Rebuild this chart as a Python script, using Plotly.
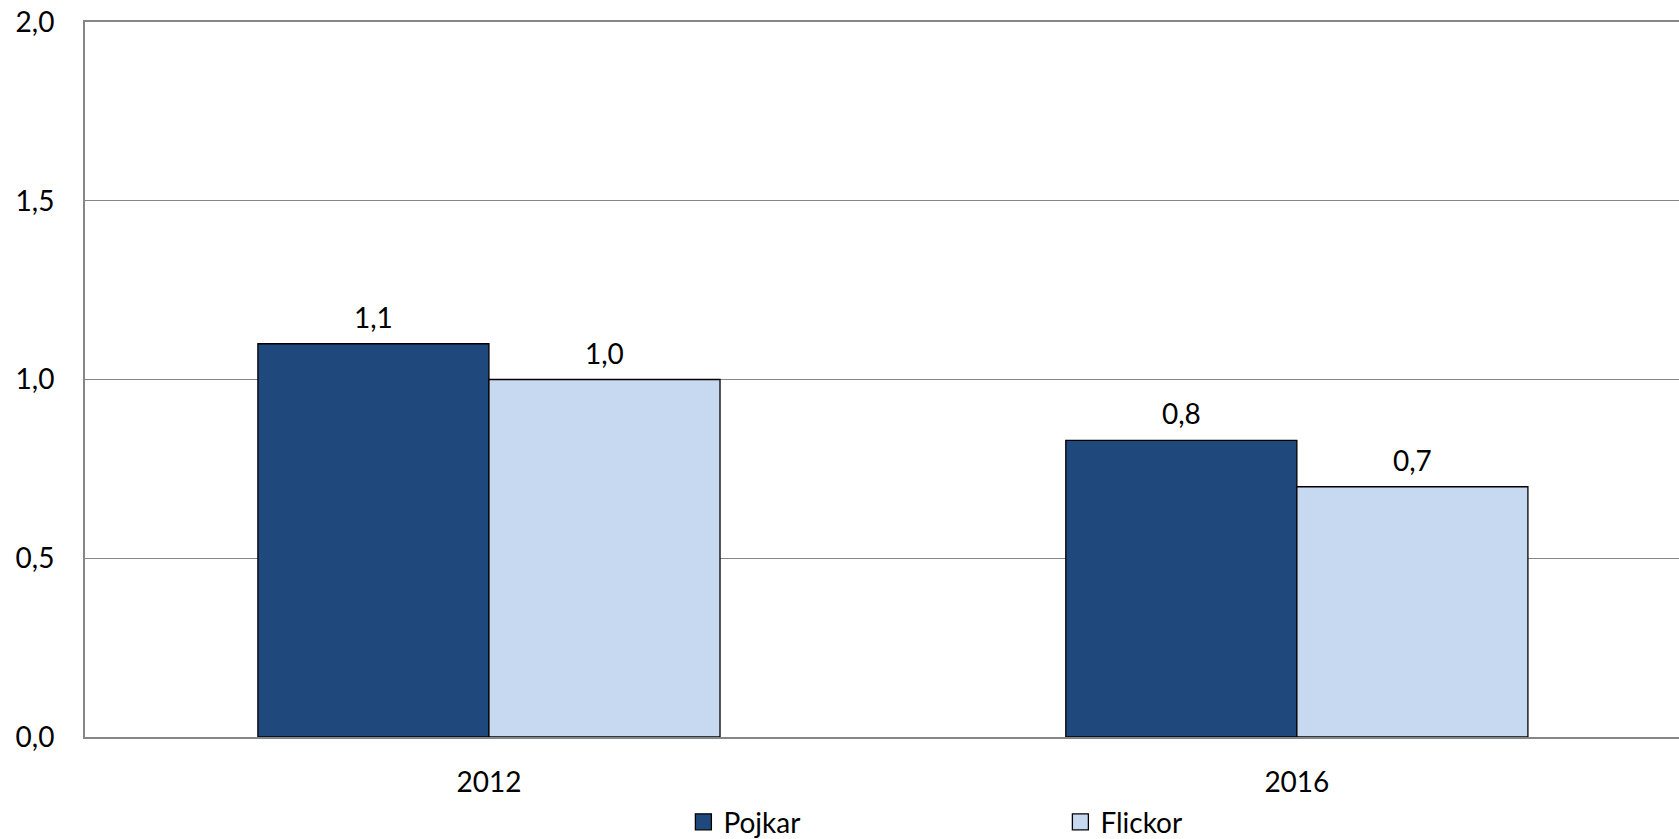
import plotly.graph_objects as go

categories = ["2012", "2016"]
pojkar = [1.10, 0.83]
flickor = [1.00, 0.70]
series_names = ["Pojkar", "Flickor"]
colors = ["#1F497D", "#C6D9F1"]
y_ticks = [0.0, 0.5, 1.0, 1.5, 2.0]
y_tick_labels = ["0,0", "0,5", "1,0", "1,5", "2,0"]

FONT = "Lato"
FS = 28
bargap = 0.428

fig = go.Figure()
for name, vals, col in zip(series_names, [pojkar, flickor], colors):
    fig.add_trace(go.Bar(
        name=name, x=categories, y=vals,
        marker=dict(color=col, line=dict(color="black", width=1.3)),
        showlegend=False,
    ))
    fig.add_trace(go.Scatter(
        name=name, x=[None], y=[None], mode="markers",
        marker=dict(symbol="square", size=16, color=col, line=dict(color="black", width=1.3)),
        showlegend=True,
    ))

# data labels
half = (1 - bargap) / 4
annotations = []
for gi, vals in enumerate([pojkar, flickor]):
    off = -half if gi == 0 else half
    for ci, v in enumerate(vals):
        annotations.append(dict(
            x=ci + off, y=v, xref="x", yref="y",
            text=f"{v:.1f}".replace(".", ","), showarrow=False,
            yanchor="bottom", yshift=8,
            font=dict(family=FONT, size=FS, color="black"),
        ))

fig.update_layout(
    width=1679, height=839,
    barmode="group", bargap=bargap, bargroupgap=0,
    plot_bgcolor="white", paper_bgcolor="white",
    margin=dict(l=85, r=0, t=22, b=102, autoexpand=False),
    font=dict(family=FONT, size=FS, color="black"),
    annotations=annotations,
    legend=dict(
        orientation="h", x=0.3754, xanchor="left", y=-0.119, yanchor="middle",
        font=dict(family=FONT, size=FS, color="black"),
        entrywidth=332, itemwidth=30, traceorder="normal",
    ),
    xaxis=dict(
        type="category", range=[-0.5, 1.473],
        showline=True, linecolor="#868686", linewidth=2, mirror=True,
        showgrid=False, ticks="", ticklabelstandoff=19,
        tickfont=dict(family=FONT, size=FS, color="black"),
    ),
    yaxis=dict(
        range=[0, 2.0], tickvals=y_ticks, ticktext=y_tick_labels,
        showline=True, linecolor="#868686", linewidth=2,
        showgrid=True, gridcolor="#868686", gridwidth=1,
        zeroline=False, ticks="", ticklabelstandoff=23,
        ticklabeloverflow="allow",
        tickfont=dict(family=FONT, size=FS, color="black"),
    ),
)

fig.write_html(
    "out.html",
    config={"displayModeBar": False},
    post_script="document.body.style.margin='0px';",
)
